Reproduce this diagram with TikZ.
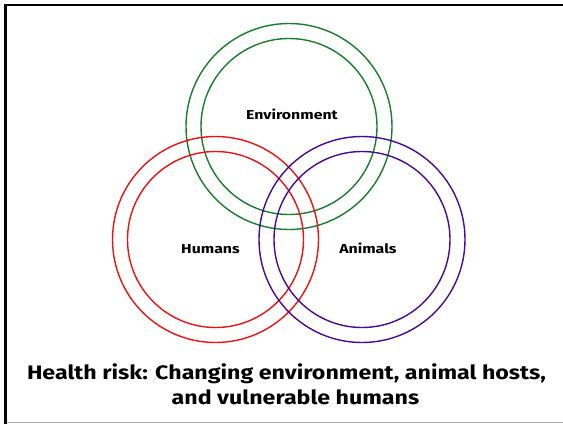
\documentclass[tikz,border=0pt]{standalone}
\usepackage{fontspec}
\setmainfont{Fira Sans}
\newfontfamily\labfont[FakeStretch=1.22]{Fira Sans}
\newfontfamily\capfont[FakeStretch=1.19]{Fira Sans}
\begin{document}
\begin{tikzpicture}[x=1pt,y=-1pt,
  ring/.style={line width=1.4pt},
  lbl/.style={font=\labfont\fontsize{13}{15}\selectfont\bfseries, inner sep=0pt, anchor=base},
  capt/.style={font=\capfont\fontsize{19.5}{26}\selectfont\bfseries, inner sep=0pt, anchor=base}]
\definecolor{envgreen}{RGB}{25,125,45}
\definecolor{humred}{RGB}{235,20,20}
\definecolor{animpurple}{RGB}{75,10,150}
\useasboundingbox (0,0) rectangle (563,424);
\fill[white] (0,0) rectangle (563,424);
% frame
\draw[line width=2.5pt] (5.5,424) -- (5.5,5) -- (563,5);
\draw[gray!70, line width=1.2pt] (7,422.6) -- (563,422.6);
% circles
\coordinate (env) at (289,126.5);
\coordinate (hum) at (215.5,239.5);
\coordinate (ani) at (362,239.5);
\draw[ring, envgreen] (env) circle[radius=103];
\draw[ring, envgreen] (env) circle[radius=88];
\draw[ring, humred] (hum) circle[radius=103];
\draw[ring, humred] (hum) circle[radius=88];
\draw[ring, animpurple] (ani) circle[radius=103];
\draw[ring, animpurple] (ani) circle[radius=88];
% labels
\node[lbl] (tenv) at (292,119.5) {Environment};
\node[lbl] (thum) at (210.5,253.3) {Humans};
\node[lbl] (tani) at (368,253.3) {Animals};
\node[capt] (cap1) at (286.5,379.5) {Health risk: Changing environment, animal hosts,};
\node[capt] (cap2) at (295.5,404.5) {and vulnerable humans};
\end{tikzpicture}
\end{document}
